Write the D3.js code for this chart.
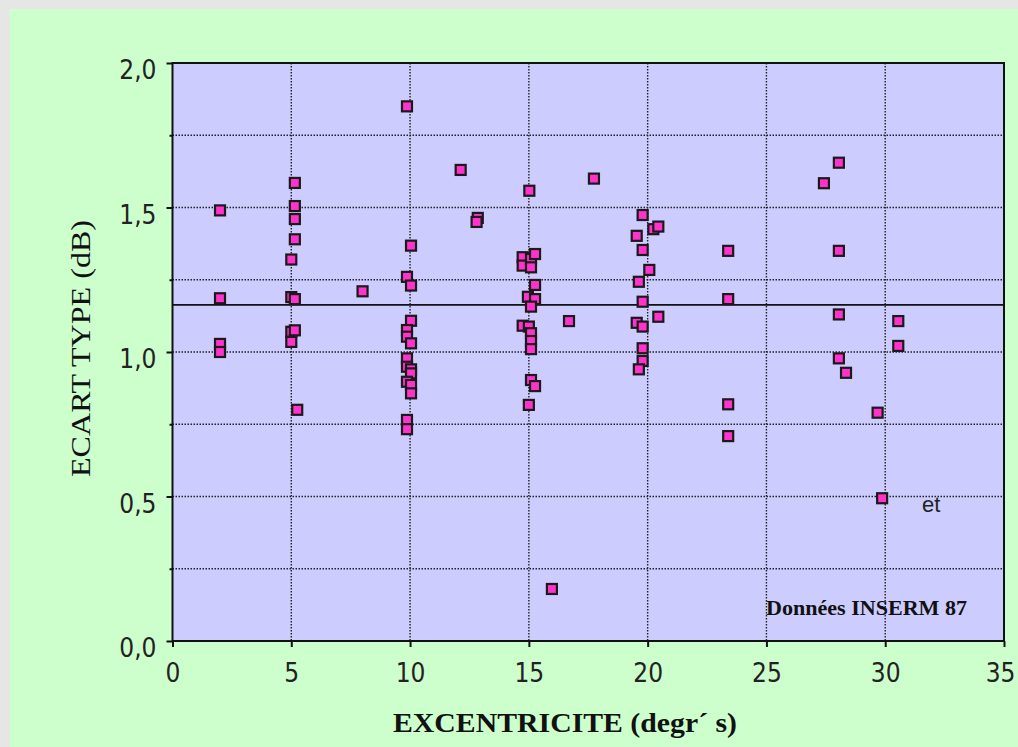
<!DOCTYPE html>
<html>
<head>
<meta charset="utf-8">
<script src="https://cdn.jsdelivr.net/npm/d3@7"></script>
<style>
  html, body { margin: 0; padding: 0; background: #e6e6e6; }
  svg { display: block; }
</style>
</head>
<body>
<svg id="chart" width="1018" height="747"></svg>
<script>
// ---- data ----
const excentricite = [
  2.0, 2.0, 2.0, 2.0,
  5.15, 5.15, 5.15, 5.15, 5.0, 5.0, 5.15, 5.0, 5.15, 5.0, 5.25,
  8.0,
  9.87, 10.04, 9.87, 10.04, 10.04, 9.87, 9.87, 10.04, 9.87, 9.87, 10.04, 10.04, 9.87, 10.04, 10.04, 9.87, 9.87,
  12.13, 12.85, 12.8,
  15.02, 14.74, 14.74, 15.09, 15.09, 15.26, 15.26, 14.96, 15.26, 15.09, 16.69, 14.74, 15.0, 15.09, 15.09, 15.09, 15.09, 15.26, 15.0,
  15.97, 17.74,
  19.79, 20.24, 20.45, 19.54, 19.79, 20.07, 19.63, 19.79, 20.45, 19.54, 19.79, 19.79, 19.79, 19.63,
  28.05, 27.42, 23.39, 28.05, 23.39, 28.05, 30.55, 30.55, 28.05, 28.35, 23.39, 29.68, 23.39, 29.87
];
const ecartType = [
  1.49, 1.186, 1.028, 1.0,
  1.585, 1.505, 1.46, 1.39, 1.32, 1.19, 1.183, 1.07, 1.075, 1.035, 0.80,
  1.21,
  1.85, 1.368, 1.26, 1.23, 1.108, 1.076, 1.053, 1.03, 0.978, 0.949, 0.94, 0.926, 0.897, 0.886, 0.857, 0.765, 0.733,
  1.63, 1.464, 1.45,
  1.558, 1.328, 1.299, 1.322, 1.293, 1.339, 1.232, 1.191, 1.183, 1.157, 1.107, 1.091, 1.088, 1.065, 1.038, 1.01, 0.903, 0.882, 0.817,
  0.18, 1.60,
  1.474, 1.425, 1.434, 1.402, 1.353, 1.284, 1.243, 1.174, 1.122, 1.101, 1.088, 1.013, 0.969, 0.94,
  1.655, 1.584, 1.35, 1.35, 1.183, 1.13, 1.107, 1.021, 0.978, 0.928, 0.819, 0.79, 0.709, 0.494
];
const moyenne = 1.163;
const xTicks = [0, 5, 10, 15, 20, 25, 30, 35];
const xTickLabels = ["0", "5", "10", "15", "20", "25", "30", "35"];
const yGrid = [0, 0.25, 0.5, 0.75, 1.0, 1.25, 1.5, 1.75, 2.0];
const yTickValues = [0, 0.5, 1.0, 1.5, 2.0];
const yTickLabels = ["0,0", "0,5", "1,0", "1,5", "2,0"];
const xTitle = "EXCENTRICITE (degr\u00B4 s)";
const yTitle = "ECART TYPE (dB)";
const sourceNote = "Données INSERM 87";
const seriesLabel = "et";

// ---- layout ----
const svg = d3.select("#chart");
const L = 172.5, R = 1004, T = 63, B = 641;
const x = d3.scaleLinear().domain([0, 35]).range([L, R]);
const y = d3.scaleLinear().domain([0, 2]).range([B, T]);
const sansFont = "'Liberation Sans Narrow', 'DejaVu Sans Condensed', 'Liberation Sans', sans-serif";
const serifFont = "'Liberation Serif', 'DejaVu Serif', serif";

svg.append("rect").attr("x", 10).attr("y", 9).attr("width", 1008).attr("height", 738).attr("fill", "#ccffcc");
svg.append("rect").attr("x", L).attr("y", T).attr("width", R - L).attr("height", B - T).attr("fill", "#ccccff");

// grid
const grid = svg.append("g").attr("stroke", "#222").attr("stroke-width", 1.4).attr("stroke-dasharray", "1.5 1.5");
grid.selectAll("line.h").data(yGrid.filter(v => v > 0 && v < 2)).join("line")
  .attr("x1", L).attr("x2", R).attr("y1", d => y(d)).attr("y2", d => y(d));
grid.selectAll("line.v").data(xTicks.filter(v => v > 0 && v < 35)).join("line")
  .attr("y1", T).attr("y2", B).attr("x1", d => x(d)).attr("x2", d => x(d));

// mean line
svg.append("line").attr("x1", L).attr("x2", R).attr("y1", y(moyenne)).attr("y2", y(moyenne))
  .attr("stroke", "#111").attr("stroke-width", 1.7);

// points
const pts = excentricite.map((v, i) => [v, ecartType[i]]);
svg.append("g").selectAll("rect").data(pts).join("rect")
  .attr("x", d => x(d[0]) - 5).attr("y", d => y(d[1]) - 5)
  .attr("width", 10).attr("height", 10)
  .attr("fill", "#ff33cc").attr("stroke", "#1a1a1a").attr("stroke-width", 2.2);

// frame
svg.append("rect").attr("x", L).attr("y", T).attr("width", R - L).attr("height", B - T)
  .attr("fill", "none").attr("stroke", "#111").attr("stroke-width", 2);

// x axis
const xAxis = d3.axisBottom(x).tickValues(xTicks).tickSize(6).tickPadding(17)
  .tickFormat((d, i) => xTickLabels[i]);
const gx = svg.append("g").attr("transform", `translate(0,${B})`).call(xAxis);
gx.select(".domain").remove();
gx.selectAll("line").attr("stroke", "#111").attr("stroke-width", 2);
gx.selectAll("text").attr("font-family", sansFont).attr("font-size", 26).attr("fill", "#222");
gx.selectAll(".tick").filter(d => d === 35).select("text").attr("dx", -4);

// y axis
const yAxis = d3.axisLeft(y).tickValues(yGrid).tickSize(6).tickPadding(10)
  .tickFormat(d => { const k = yTickValues.indexOf(d); return k >= 0 ? yTickLabels[k] : ""; });
const gy = svg.append("g").attr("transform", `translate(${L},0)`).call(yAxis);
gy.select(".domain").remove();
gy.selectAll(".tick").filter(d => yTickValues.indexOf(d) < 0).select("line").attr("x2", -3);
gy.selectAll("line").attr("stroke", "#111").attr("stroke-width", 2);
gy.selectAll("text").attr("font-family", sansFont).attr("font-size", 26).attr("fill", "#222").attr("dy", "0.6em");

// titles
svg.append("text").attr("x", 393).attr("y", 732).attr("font-family", serifFont).attr("font-weight", "bold")
  .attr("font-size", 27).attr("fill", "#111").attr("textLength", 344).attr("lengthAdjust", "spacingAndGlyphs")
  .text(xTitle);
svg.append("text").attr("transform", "translate(90,477) rotate(-90)").attr("font-family", serifFont)
  .attr("font-size", 27).attr("fill", "#111").attr("textLength", 257).attr("lengthAdjust", "spacingAndGlyphs")
  .text(yTitle);
svg.append("text").attr("x", 766).attr("y", 615).attr("font-family", serifFont).attr("font-weight", "bold")
  .attr("font-size", 21).attr("fill", "#111").attr("textLength", 201).attr("lengthAdjust", "spacingAndGlyphs")
  .text(sourceNote);
svg.append("text").attr("x", 922).attr("y", 512).attr("font-family", "'Liberation Sans', sans-serif")
  .attr("font-size", 22).attr("fill", "#222").text(seriesLabel);
</script>
</body>
</html>
